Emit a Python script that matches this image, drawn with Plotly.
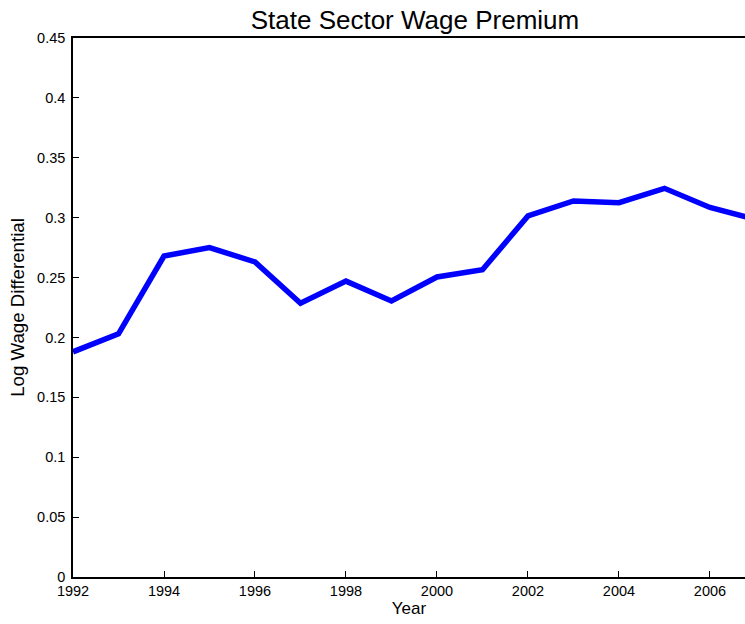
import plotly.graph_objects as go

years = [1992, 1993, 1994, 1995, 1996, 1997, 1998, 1999, 2000, 2001, 2002, 2003, 2004, 2005, 2006, 2007]
premium = [0.188, 0.203, 0.268, 0.275, 0.263, 0.2285, 0.247, 0.2305, 0.2505, 0.2565, 0.3015, 0.314, 0.3125, 0.3245, 0.3085, 0.2985]
x_ticks = [1992, 1994, 1996, 1998, 2000, 2002, 2004, 2006]
y_ticks = [0, 0.05, 0.1, 0.15, 0.2, 0.25, 0.3, 0.35, 0.4, 0.45]
y_labels = ["0", "0.05", "0.1", "0.15", "0.2", "0.25", "0.3", "0.35", "0.4", "0.45"]

fig = go.Figure()
fig.add_trace(go.Scatter(x=years, y=premium, mode="lines",
                         line=dict(color="#0000ff", width=5.5), showlegend=False))

font = "Liberation Sans, Arial, Helvetica, sans-serif"
fig.update_layout(
    width=745, height=624,
    margin=dict(l=73, r=0, t=38, b=47, autoexpand=False),
    paper_bgcolor="white", plot_bgcolor="white",
    font=dict(family=font, color="black", size=14.5),
    title=dict(text="State Sector Wage Premium", x=0.557, xref="container", xanchor="center",
               y=0.968, yref="container", yanchor="middle", font=dict(size=26, color="black")),
    xaxis=dict(range=[1992, 2006.77], tickvals=x_ticks,
               ticktext=[str(v) for v in x_ticks],
               showline=True, linecolor="black", linewidth=1.5, mirror=True,
               ticks="inside", ticklen=6, tickcolor="black", tickwidth=1,
               showgrid=False, zeroline=False,
               title=dict(text="Year", font=dict(size=17), standoff=1),
               tickfont=dict(size=14.5)),
    yaxis=dict(range=[0, 0.45], tickvals=y_ticks, ticktext=y_labels,
               showline=True, linecolor="black", linewidth=1.5, mirror=False,
               ticks="inside", ticklen=6, tickcolor="black", tickwidth=1,
               showgrid=False, zeroline=False, ticklabelstandoff=3,
               title=dict(text="Log Wage Differential", font=dict(size=18.7), standoff=8),
               tickfont=dict(size=14.5)),
)

fig.write_html("out.html", config={"displayModeBar": False},
               post_script="document.body.style.margin='0';document.body.style.overflow='hidden';")
